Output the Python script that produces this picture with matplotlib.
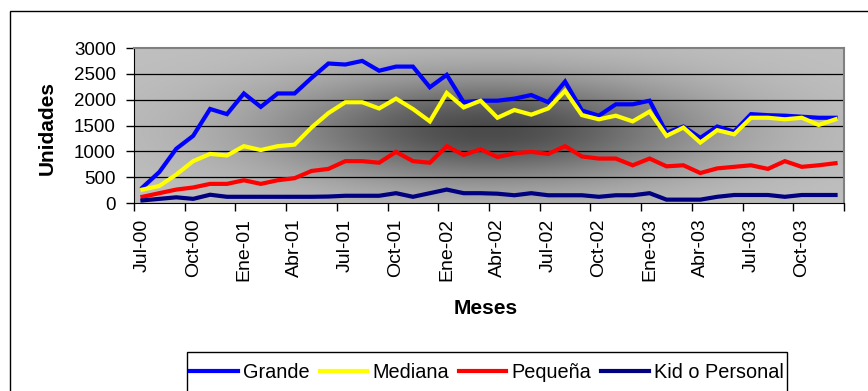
import numpy as np
import matplotlib
matplotlib.use("Agg")
import matplotlib.pyplot as plt
from matplotlib import font_manager
from matplotlib.patches import Rectangle

# datos mensuales (Jul-00 .. Dic-03)
abrev = ["Ene", "Feb", "Mar", "Abr", "May", "Jun",
         "Jul", "Ago", "Sep", "Oct", "Nov", "Dic"]
meses = [f"{abrev[(6 + i) % 12]}-{(6 + i) // 12:02d}" for i in range(42)]

grande = [300, 600, 1050, 1300, 1820, 1720, 2120, 1860, 2120, 2120,
          2420, 2700, 2680, 2750, 2560, 2640, 2640, 2240, 2480, 1950,
          1980, 1980, 2020, 2090, 1950, 2350, 1790, 1690, 1910, 1910,
          1980, 1360, 1480, 1260, 1480, 1380, 1720, 1700, 1690, 1670,
          1650, 1650]
mediana = [260, 330, 550, 810, 950, 920, 1100, 1025, 1100, 1130,
           1460, 1740, 1950, 1950, 1830, 2020, 1820, 1580, 2130, 1850,
           1980, 1650, 1800, 1710, 1830, 2170, 1700, 1620, 1690, 1580,
           1770, 1300, 1460, 1170, 1410, 1330, 1650, 1650, 1620, 1650,
           1510, 1620]
pequena = [120, 190, 260, 300, 370, 370, 440, 370, 440, 480,
           620, 660, 810, 810, 780, 990, 810, 780, 1100, 930,
           1040, 890, 960, 990, 950, 1100, 900, 860, 860, 730,
           860, 710, 730, 580, 670, 700, 730, 660, 810, 700,
           730, 770]
kid = [50, 80, 110, 80, 160, 120, 120, 120, 120, 120,
       120, 125, 140, 140, 140, 190, 120, 190, 260, 190,
       190, 180, 150, 190, 150, 150, 150, 120, 150, 150,
       190, 65, 65, 65, 120, 155, 155, 155, 120, 155,
       155, 155]

series = [("Grande", grande, "#0000ff"),
          ("Mediana", mediana, "#ffff00"),
          ("Pequeña", pequena, "#ff0000"),
          ("Kid o Personal", kid, "#000080")]

nombres = {f.name for f in font_manager.fontManager.ttflist}
fuente = "Liberation Sans" if "Liberation Sans" in nombres else "DejaVu Sans"
plt.rcParams["font.family"] = [fuente, "DejaVu Sans"]

W, H = 868, 391
fig = plt.figure(figsize=(W / 100, H / 100), dpi=100)

# marco exterior del grafico (se corta por la derecha y abajo)
fig.patches.append(Rectangle((10 / W, -0.05), 1.0, 1 - 11 / H + 0.05,
                             transform=fig.transFigure, fill=False,
                             edgecolor="black", linewidth=1.0))

ax = fig.add_axes([134 / W, 1 - 203 / H, 710 / W, 155 / H])

# fondo degradado desde el centro
n = len(meses)
u = np.linspace(0, 1, 300)
v = np.linspace(0, 1, 120)
U, V = np.meshgrid(u, v)
g = np.exp(-(((U - 0.5) / 0.3) ** 2 + ((V - 0.47) / 0.35) ** 2))
gris = (192 - (192 - 75) * g) / 255
ax.imshow(np.dstack([gris, gris, gris]), extent=[0, n, 0, 3000],
          origin="lower", aspect="auto", zorder=0, interpolation="bilinear")

x = np.arange(n) + 0.5
for nombre, vals, color in series:
    ax.plot(x, vals, color=color, lw=3.0, label=nombre, zorder=3,
            solid_joinstyle="miter")

ax.set_xlim(0, n)
ax.set_ylim(0, 3000)
ax.set_yticks(np.arange(0, 3001, 500))
for yv in range(500, 3000, 500):
    ax.axhline(yv, color="black", lw=0.9, zorder=1)

ax.set_xticks(np.arange(0, n + 1, 3))
ax.set_xticklabels([])
ax.set_xticks(x[::3], minor=True)
ax.set_xticklabels(meses[::3], minor=True, rotation=90, fontsize=14)
ax.tick_params(axis="x", which="major", length=6, width=1, direction="out")
ax.tick_params(axis="x", which="minor", length=0, pad=11)
ax.tick_params(axis="y", length=6, width=1, direction="out", pad=7,
               labelsize=13.5)

ax.spines["top"].set_color("#808080")
ax.spines["right"].set_color("#808080")
ax.spines["top"].set_linewidth(1.5)
ax.spines["right"].set_linewidth(1.5)

fig.text(47 / W, 1 - 128 / H, "Unidades", rotation=90, fontsize=15,
         fontweight="bold", ha="center", va="center")
fig.text(486 / W, 1 - 309 / H, "Meses", fontsize=15, fontweight="bold",
         ha="center", va="center")

# leyenda
fig.patches.append(Rectangle((187 / W, -0.05), 600 / W, 1 - 352 / H + 0.05,
                             transform=fig.transFigure, fill=False,
                             edgecolor="black", linewidth=1.0))
fig.legend(loc="center", bbox_to_anchor=(487 / W, 1 - 372 / H), ncol=4,
           frameon=False, fontsize=14.3,
           handlelength=2.4, handletextpad=0.25, columnspacing=0.5,
           borderpad=0, borderaxespad=0)

fig.savefig("out.png", dpi=100)
